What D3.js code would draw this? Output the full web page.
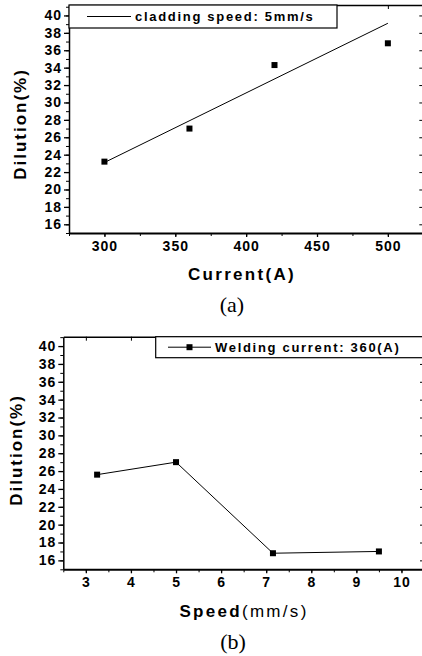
<!DOCTYPE html>
<html><head><meta charset="utf-8">
<script src="https://cdn.jsdelivr.net/npm/d3@7/dist/d3.min.js"></script>
<style>
html,body{margin:0;padding:0;background:#fff;}
svg{display:block;}
</style></head>
<body>
<svg id="c" width="422" height="656"></svg>
<script>
// Panel (a): dilution vs current
const currentA = [300, 360, 420, 500];
const dilutionA = [23.2, 27.0, 34.3, 36.8];
const fitCurrent = [300, 500];
const fitDilution = [23.1, 39.1];
const xTicksA = [300, 350, 400, 450, 500];
const legendA = "cladding speed: 5mm/s";

// Panel (b): dilution vs speed
const speedB = [3.25, 5.0, 7.15, 9.5];
const dilutionB = [25.6, 27.0, 16.8, 17.0];
const xTicksB = [3, 4, 5, 6, 7, 8, 9, 10];
const legendB = "Welding current: 360(A)";

const yTicks = [16, 18, 20, 22, 24, 26, 28, 30, 32, 34, 36, 38, 40];
const yMinor = d3.range(15, 42, 1);

const svg = d3.select("#c");
const font = '"Liberation Sans",Arial,sans-serif';

function styleTicks(s) {
  s.selectAll(".tick text")
    .attr("font-family", font).attr("font-weight", "bold").attr("font-size", 14)
    .attr("letter-spacing", "1px").attr("fill", "#000");
}

function panel(opt) {
  const g = svg.append("g");
  const x = d3.scaleLinear().domain(opt.xDom).range([opt.left, opt.right]);
  const y = d3.scaleLinear().domain(opt.yDom).range([opt.bottom, opt.top]);

  // minor ticks
  g.append("g").attr("transform", `translate(${opt.left},0)`)
    .call(d3.axisLeft(y).tickValues(yMinor).tickSize(3).tickFormat(""))
    .call(s => s.select(".domain").remove());
  g.append("g").attr("transform", `translate(0,${opt.bottom})`)
    .call(d3.axisBottom(x).tickValues(opt.xMinor).tickSize(3).tickFormat(""))
    .call(s => s.select(".domain").remove());
  // right (inward)
  g.append("g").attr("transform", `translate(${opt.right},0)`)
    .call(d3.axisLeft(y).tickValues(yTicks).tickSize(4).tickSizeOuter(0).tickFormat(""))
    .call(s => s.select(".domain").attr("stroke-width", 1.5));
  // top (inward)
  g.append("g").attr("transform", `translate(0,${opt.top})`)
    .call(d3.axisBottom(x).tickValues(opt.xTicks).tickSize(4).tickSizeOuter(0).tickFormat(""))
    .call(s => s.select(".domain").attr("stroke-width", 1.5));
  // major left
  g.append("g").attr("transform", `translate(${opt.left},0)`)
    .call(d3.axisLeft(y).tickValues(yTicks).tickSize(5).tickPadding(2).tickSizeOuter(0))
    .call(s => s.select(".domain").attr("stroke-width", 1.5))
    .call(s => s.selectAll(".tick line").attr("stroke-width", 1.3))
    .call(styleTicks);
  // major bottom
  g.append("g").attr("transform", `translate(0,${opt.bottom})`)
    .call(d3.axisBottom(x).tickValues(opt.xTicks).tickSize(4).tickPadding(4).tickSizeOuter(0))
    .call(s => s.select(".domain").attr("stroke-width", 2))
    .call(s => s.selectAll(".tick line").attr("stroke-width", 1.3))
    .call(styleTicks);

  // legend
  const lg = g.append("g");
  lg.append("rect").attr("x", opt.legX).attr("y", opt.top)
    .attr("width", opt.legW).attr("height", opt.legH)
    .attr("fill", "#fff").attr("stroke", "#000").attr("stroke-width", 1.2);
  lg.append("line").attr("x1", opt.legLine[0]).attr("x2", opt.legLine[1])
    .attr("y1", opt.top + opt.legH / 2).attr("y2", opt.top + opt.legH / 2)
    .attr("stroke", "#000").attr("stroke-width", 1);
  if (opt.legMarker) {
    lg.append("rect").attr("x", (opt.legLine[0] + opt.legLine[1]) / 2 - 3)
      .attr("y", opt.top + opt.legH / 2 - 3).attr("width", 6).attr("height", 6).attr("fill", "#000");
  }
  lg.append("text").attr("x", opt.legLine[1] + 4).attr("y", opt.top + opt.legH / 2)
    .attr("dominant-baseline", "central")
    .attr("font-family", font).attr("font-weight", "bold").attr("font-size", 13)
    .attr("letter-spacing", "1.7px").text(opt.legText);

  // y label
  g.append("text").attr("transform", `translate(${opt.yLabX},${opt.yLabY}) rotate(-90)`)
    .attr("text-anchor", "middle").attr("dominant-baseline", "central")
    .attr("font-family", font).attr("font-weight", "bold").attr("font-size", 17)
    .attr("letter-spacing", "2px").text("Dilution(%)");

  return {g, x, y};
}

// ---- Panel (a)
const A = panel({
  xDom: [275, 525], yDom: [15, 41.2],
  left: 69, right: 423.3, top: 5, bottom: 233,
  xTicks: xTicksA, xMinor: d3.range(275, 526, 25),
  legX: 69, legW: 268, legH: 23, legLine: [87, 131], legMarker: false, legText: legendA,
  yLabX: 20, yLabY: 124
});
A.g.append("path")
  .datum(fitCurrent.map((c, i) => [c, fitDilution[i]]))
  .attr("d", d3.line().x(d => A.x(d[0])).y(d => A.y(d[1])))
  .attr("fill", "none").attr("stroke", "#000").attr("stroke-width", 1);
A.g.selectAll(".pt").data(currentA.map((c, i) => [c, dilutionA[i]])).join("rect")
  .attr("x", d => A.x(d[0]) - 3).attr("y", d => A.y(d[1]) - 3)
  .attr("width", 6).attr("height", 6).attr("fill", "#000");
A.g.append("text").attr("x", 242).attr("y", 274).attr("text-anchor", "middle")
  .attr("dominant-baseline", "central")
  .attr("font-family", font).attr("font-weight", "bold").attr("font-size", 17)
  .attr("letter-spacing", "2.3px").text("Current(A)");
svg.append("text").attr("x", 232).attr("y", 304).attr("text-anchor", "middle")
  .attr("dominant-baseline", "central")
  .attr("font-family", '"Liberation Serif","Times New Roman",serif').attr("font-size", 22)
  .text("(a)");

// ---- Panel (b)
const B = panel({
  xDom: [2.5, 10.5], yDom: [15, 41.05],
  left: 63.3, right: 424, top: 336.7, bottom: 569.3,
  xTicks: xTicksB, xMinor: d3.range(2.5, 10.6, 0.5),
  legX: 155.7, legW: 280, legH: 21, legLine: [168, 211], legMarker: true, legText: legendB,
  yLabX: 16, yLabY: 450
});
B.g.append("path")
  .datum(speedB.map((s, i) => [s, dilutionB[i]]))
  .attr("d", d3.line().x(d => B.x(d[0])).y(d => B.y(d[1])))
  .attr("fill", "none").attr("stroke", "#000").attr("stroke-width", 1);
B.g.selectAll(".pt").data(speedB.map((s, i) => [s, dilutionB[i]])).join("rect")
  .attr("x", d => B.x(d[0]) - 3).attr("y", d => B.y(d[1]) - 3)
  .attr("width", 6).attr("height", 6).attr("fill", "#000");
const xl = B.g.append("text").attr("x", 244).attr("y", 611).attr("text-anchor", "middle")
  .attr("dominant-baseline", "central")
  .attr("font-family", font).attr("font-size", 17).attr("letter-spacing", "2.3px");
xl.append("tspan").attr("font-weight", "bold").text("Speed");
xl.append("tspan").attr("font-weight", "normal").text("(mm/s)");
svg.append("text").attr("x", 233).attr("y", 641).attr("text-anchor", "middle")
  .attr("dominant-baseline", "central")
  .attr("font-family", '"Liberation Serif","Times New Roman",serif').attr("font-size", 22)
  .text("(b)");
</script>
</body></html>
